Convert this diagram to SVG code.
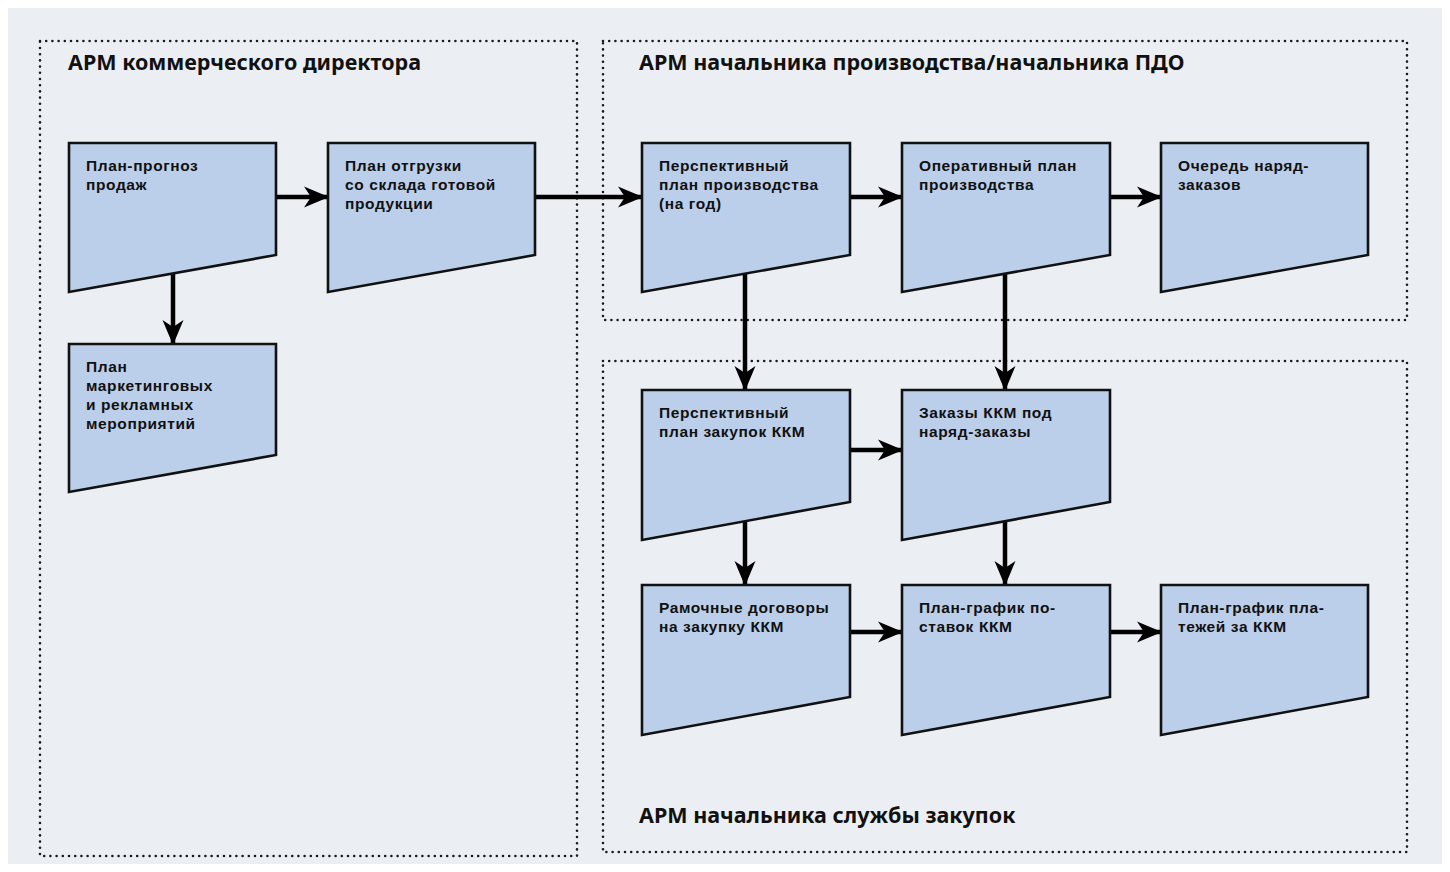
<svg xmlns="http://www.w3.org/2000/svg" width="1450" height="872" viewBox="0 0 1450 872">
<defs>
<style>
.bg{fill:#ebeff3}
.zone{fill:none;stroke:#1a1a1a;stroke-width:2.6;stroke-dasharray:0 6.2;stroke-linecap:round}
.node{fill:#bccfea;stroke:#111;stroke-width:2.6;stroke-linejoin:miter}
.t{font-family:"Liberation Sans","Noto Sans",sans-serif;font-weight:700;font-size:15.5px;letter-spacing:0.6px;fill:#111}
.title{font-family:"Noto Sans","Liberation Sans",sans-serif;font-weight:700;font-size:21.5px;fill:#111}
.c{fill:none;stroke:#000;stroke-width:4.5;marker-end:url(#ah)}
</style>
<marker id="ah" markerUnits="userSpaceOnUse" viewBox="0 -11 25 22" refX="24" refY="0" markerWidth="25" markerHeight="22" orient="auto">
<path d="M0,-10.5 L25,0 L0,10.5 L7,0 Z" fill="#000"/>
</marker>
</defs>
<rect x="0" y="0" width="1450" height="872" fill="#fff"/>
<rect class="bg" x="8" y="8" width="1434" height="856"/>
<g id="zones">
<rect class="zone" x="40" y="41" width="537" height="815"/>
<rect class="zone" x="603" y="41" width="804" height="279"/>
<rect class="zone" x="603" y="361" width="804" height="491"/>
<text class="title" x="68" y="70">АРМ коммерческого директора</text>
<text class="title" x="639" y="70">АРМ начальника производства/начальника ПДО</text>
<text class="title" x="639" y="823">АРМ начальника службы закупок</text>
</g>
<g id="connectors">
<line class="c" x1="276" y1="197" x2="328" y2="197"/>
<line class="c" x1="535" y1="197" x2="642" y2="197"/>
<line class="c" x1="850" y1="197" x2="902" y2="197"/>
<line class="c" x1="1110" y1="197" x2="1161" y2="197"/>
<line class="c" x1="173" y1="273" x2="173" y2="344"/>
<line class="c" x1="745" y1="273" x2="745" y2="390"/>
<line class="c" x1="1005" y1="273" x2="1005" y2="390"/>
<line class="c" x1="850" y1="450" x2="902" y2="450"/>
<line class="c" x1="745" y1="521" x2="745" y2="585"/>
<line class="c" x1="1005" y1="521" x2="1005" y2="585"/>
<line class="c" x1="850" y1="632" x2="902" y2="632"/>
<line class="c" x1="1110" y1="632" x2="1161" y2="632"/>
</g>
<g id="n1"><path class="node" d="M69,143 H276 V255 L69,292 Z"/><text class="t" x="86" y="171">План-прогноз<tspan x="86" dy="19">продаж</tspan></text></g>
<g id="n2"><path class="node" d="M328,143 H535 V255 L328,292 Z"/><text class="t" x="345" y="171">План отгрузки<tspan x="345" dy="19">со склада готовой</tspan><tspan x="345" dy="19">продукции</tspan></text></g>
<g id="n3"><path class="node" d="M642,143 H850 V255 L642,292 Z"/><text class="t" x="659" y="171">Перспективный<tspan x="659" dy="19">план производства</tspan><tspan x="659" dy="19">(на год)</tspan></text></g>
<g id="n4"><path class="node" d="M902,143 H1110 V255 L902,292 Z"/><text class="t" x="919" y="171">Оперативный план<tspan x="919" dy="19">производства</tspan></text></g>
<g id="n5"><path class="node" d="M1161,143 H1368 V255 L1161,292 Z"/><text class="t" x="1178" y="171">Очередь наряд-<tspan x="1178" dy="19">заказов</tspan></text></g>
<g id="n6"><path class="node" d="M69,344 H276 V455 L69,492 Z"/><text class="t" x="86" y="372">План<tspan x="86" dy="19">маркетинговых</tspan><tspan x="86" dy="19">и рекламных</tspan><tspan x="86" dy="19">мероприятий</tspan></text></g>
<g id="n7"><path class="node" d="M642,390 H850 V502 L642,540 Z"/><text class="t" x="659" y="418">Перспективный<tspan x="659" dy="19">план закупок ККМ</tspan></text></g>
<g id="n8"><path class="node" d="M902,390 H1110 V502 L902,540 Z"/><text class="t" x="919" y="418">Заказы ККМ под<tspan x="919" dy="19">наряд-заказы</tspan></text></g>
<g id="n9"><path class="node" d="M642,585 H850 V697 L642,735 Z"/><text class="t" x="659" y="613">Рамочные договоры<tspan x="659" dy="19">на закупку ККМ</tspan></text></g>
<g id="n10"><path class="node" d="M902,585 H1110 V697 L902,735 Z"/><text class="t" x="919" y="613">План-график по-<tspan x="919" dy="19">ставок ККМ</tspan></text></g>
<g id="n11"><path class="node" d="M1161,585 H1368 V697 L1161,735 Z"/><text class="t" x="1178" y="613">План-график пла-<tspan x="1178" dy="19">тежей за ККМ</tspan></text></g>
</svg>
